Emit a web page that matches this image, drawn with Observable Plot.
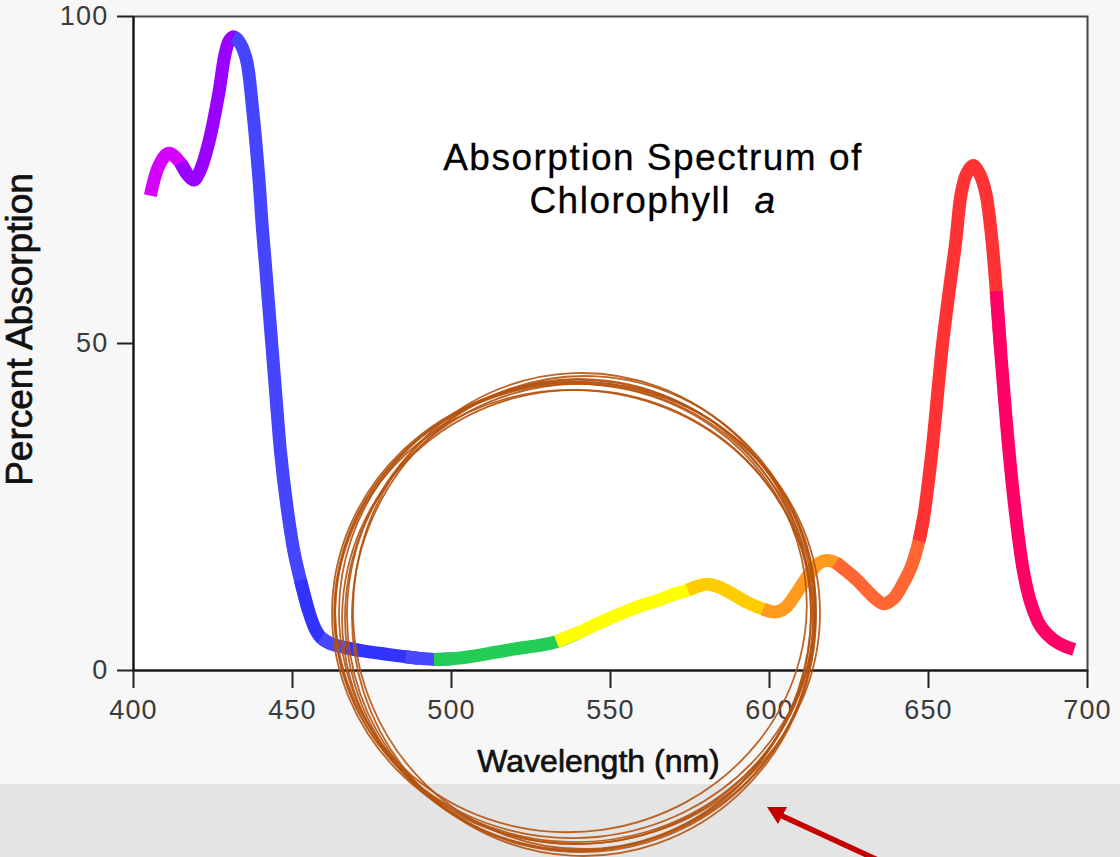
<!DOCTYPE html>
<html>
<head>
<meta charset="utf-8">
<script src="https://cdn.jsdelivr.net/npm/d3@7"></script>
<script src="https://cdn.jsdelivr.net/npm/@observablehq/plot@0.6"></script>
<style>
  html, body { margin: 0; padding: 0; }
  body {
    width: 1120px; height: 857px; position: relative; overflow: hidden;
    background: linear-gradient(to bottom, #f7f7f7 0px, #f7f7f7 784px, #e4e4e4 784px, #e4e4e4 857px);
    font-family: "Liberation Sans", Arial, sans-serif;
  }
  #chart { position: absolute; left: 0; top: 0; }
  #chart g[aria-label="x-axis tick label"] text,
  #chart g[aria-label="y-axis tick label"] text { letter-spacing: 1.2px; }
  #title {
    position: absolute; left: 353px; top: 136px; width: 600px;
    text-align: center; font-size: 37px; line-height: 43px; color: #000;
    letter-spacing: 1.5px; font-family: "Liberation Sans", Arial, sans-serif;
    -webkit-text-stroke: 0.3px #000;
  }
  #anno { position: absolute; left: 0; top: 0; pointer-events: none; }
</style>
</head>
<body>
<div id="chart"></div>
<div id="title"></div>
<svg id="anno" width="1120" height="857"></svg>
<script>
// ---- data ----
const wavelength = [
  405.3, 408, 411.1, 414.8, 417, 419, 421, 423.7, 426.8, 428.6, 430, 431.4,
  433, 435.4, 437.5, 439.4, 440.5, 441.5, 443.6, 444.9, 446.2, 448, 450.4, 452.5,
  455, 457, 459, 462, 466.7, 472, 478, 485.5, 490, 494.5,
  500, 507, 514, 520, 527, 533,
  540, 547, 554.2, 560, 564.7, 569, 574.3,
  577.5, 580.4, 584, 588.7, 593, 598,
  600.5, 602.5, 605, 608.7, 612, 615, 617.6, 620.8,
  624, 627.6, 632.8, 636, 639, 642, 644.7, 647,
  648.5, 651.1, 654.3, 656.5, 658.5, 660.3, 662, 664, 666, 668, 669.8, 671.3,
  672.6, 675.3, 677.6, 679.8, 682, 685.2, 689, 692.5, 695.8
];
const absorption = [
  72.6, 77.2, 79.1, 77.6, 75.8, 75.0, 76.5, 80.8, 88.2, 93.8, 96.2, 96.9,
  96.3, 93.6, 85.6, 75.4, 67.8, 62.0, 49.2, 41.3, 33.6, 26.0, 18.3, 13.8,
  9.2, 6.5, 5.0, 4.1, 3.5, 3.0, 2.6, 2.1, 1.85, 1.7,
  1.8, 2.2, 2.8, 3.3, 3.8, 4.4,
  5.8, 7.4, 8.9, 10.0, 10.7, 11.5, 12.3,
  12.9, 13.2, 12.8, 11.6, 10.4, 9.4,
  9.0, 9.0, 9.6, 12.0, 14.4, 16.2, 16.8, 16.5,
  15.3, 13.8, 11.2, 10.2, 11.0, 13.3, 16.0, 19.8,
  23.5, 33.6, 49.4, 58.0, 65.3, 73.0, 76.0, 77.2, 76.0, 73.0, 66.5, 58.0,
  49.4, 33.6, 23.0, 15.3, 10.6, 6.8, 4.8, 3.8, 3.2
];
const bandNames  = ["magenta", "violet", "blue1", "blue2", "blue3", "blue4", "blue5", "green", "yellow", "gold", "orange", "orangered", "red", "pink"];
const bandStart  = [405.3, 414.8, 431.4, 452.5, 459, 466.7, 485.5, 494.5, 533, 574.3, 598, 620.8, 647, 671.3];
const bandEnd    = [414.8, 431.4, 452.5, 459, 466.7, 485.5, 494.5, 533, 574.3, 598, 620.8, 647, 671.3, 695.8];
const bandColors = ["#d600ff", "#9900ff", "#4545ff", "#3333ff", "#4848ff", "#3333ff", "#4848ff", "#22cc55", "#ffff00", "#ffcc00", "#ff9a1e", "#ff6633", "#ff3333", "#ff0066"];
const xTicks = [400, 450, 500, 550, 600, 650, 700];
const yTicks = [0, 50, 100];
const xDomain = [400, 700];
const yDomain = [0, 100];
const xLabel = "Wavelength (nm)";
const yLabel = "Percent Absorption";
const titleLine1 = "Absorption Spectrum of";
const titleLine2 = "Chlorophyll";
const titleItalic = "a";

// ---- build per-band rows; each band runs on to the next sample so that
// the following band (drawn on top) starts with a clean cut and no gap ----
const rows = [];
bandNames.forEach((b, i) => {
  let extra = true;
  wavelength.forEach((w, j) => {
    const inside = w >= bandStart[i] && w <= bandEnd[i];
    const next = !inside && w > bandEnd[i] && extra;
    if (inside || next) {
      rows.push({band: b, color: bandColors[i], wl: w, abs: absorption[j]});
      if (next) extra = false;
    }
  });
});

const chart = Plot.plot({
  width: 1120, height: 857,
  marginLeft: 133, marginRight: 33, marginTop: 16, marginBottom: 187,
  style: {background: "transparent", fontFamily: "'Liberation Sans', Arial, sans-serif", overflow: "visible"},
  x: {domain: xDomain},
  y: {domain: yDomain},
  color: {type: "identity"},
  marks: [
    Plot.frame({fill: "white", stroke: "#444", strokeWidth: 2}),
    Plot.line(rows, {x: "wl", y: "abs", z: "band", stroke: "color", strokeWidth: 13,
      curve: "catmull-rom", strokeLinecap: "butt", strokeLinejoin: "round"}),
    Plot.ruleX([xDomain[0]], {stroke: "#111", strokeWidth: 2}),
    Plot.ruleY([yDomain[0]], {stroke: "#111", strokeWidth: 2}),
    Plot.axisX(xTicks, {tickSize: 18, tickPadding: 11, fontSize: 27, stroke: "#222", fill: "#3a3a3a",
      strokeWidth: 2, label: null, tickFormat: d => String(d)}),
    Plot.axisY(yTicks, {tickSize: 16, tickPadding: 9, fontSize: 27, stroke: "#222", fill: "#3a3a3a",
      strokeWidth: 2, label: null, tickFormat: d => String(d)}),
    Plot.text([xLabel], {frameAnchor: "bottom", dy: 101, dx: -12, fontSize: 32, fill: "#111",
      stroke: "#111", strokeWidth: 0.7}),
    Plot.text([yLabel], {frameAnchor: "left", dx: -113, dy: -14, rotate: -90, textAnchor: "middle",
      fontSize: 37, fill: "#111", stroke: "#111", strokeWidth: 0.7})
  ]
});
document.getElementById("chart").appendChild(chart);

// ---- title (inside plot area) ----
const t = document.getElementById("title");
const l1 = document.createElement("div"); l1.textContent = titleLine1; t.appendChild(l1);
const l2 = document.createElement("div");
l2.appendChild(document.createTextNode(titleLine2 + "\u00a0\u00a0"));
const it = document.createElement("i"); it.textContent = titleItalic; l2.appendChild(it);
t.appendChild(l2);

// ---- hand-drawn annotation: brown loops and red arrow ----
const ns = "http://www.w3.org/2000/svg";
const anno = document.getElementById("anno");
const loops = [
  [577, 612, 238, 232, -3], [579, 615, 232, 236, 2], [575, 610, 241, 228, -6],
  [580, 618, 235, 234, 5], [576, 613, 244, 231, 0], [582, 611, 229, 238, -2],
  [574, 616, 239, 226, 4], [578, 620, 236, 230, 7], [571, 608, 236, 224, -8],
  [584, 616, 232, 240, 3]
];
loops.forEach(([cx, cy, rx, ry, rot]) => {
  const e = document.createElementNS(ns, "ellipse");
  e.setAttribute("cx", cx); e.setAttribute("cy", cy);
  e.setAttribute("rx", rx); e.setAttribute("ry", ry);
  e.setAttribute("transform", `rotate(${rot} ${cx} ${cy})`);
  e.setAttribute("fill", "none");
  e.setAttribute("stroke", "#b5530f");
  e.setAttribute("stroke-width", "1.8");
  e.setAttribute("stroke-opacity", "0.9");
  anno.appendChild(e);
});
const arrowLine = document.createElementNS(ns, "line");
arrowLine.setAttribute("x1", 895); arrowLine.setAttribute("y1", 868);
arrowLine.setAttribute("x2", 780); arrowLine.setAttribute("y2", 815);
arrowLine.setAttribute("stroke", "#c40000"); arrowLine.setAttribute("stroke-width", "5.5");
anno.appendChild(arrowLine);
const head = document.createElementNS(ns, "polygon");
head.setAttribute("points", "767,807 787,807 778,824");
head.setAttribute("fill", "#c40000");
anno.appendChild(head);
</script>
</body>
</html>
